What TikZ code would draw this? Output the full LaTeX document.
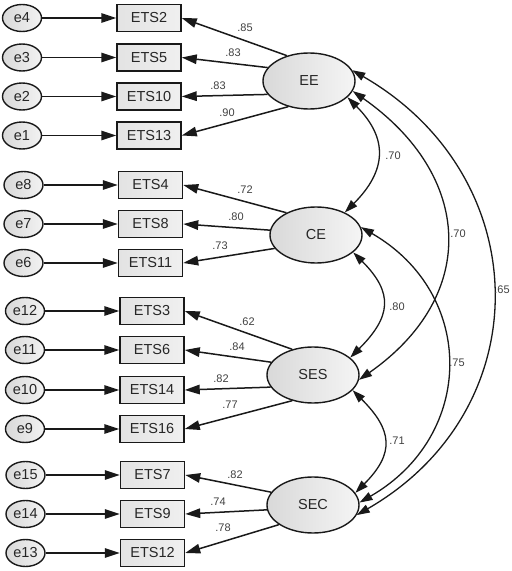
\documentclass[tikz,border=0pt]{standalone}
\usepackage{fontspec}
\setmainfont{Liberation Sans}
\usetikzlibrary{shapes.geometric,arrows.meta}
\begin{document}
\begin{tikzpicture}[x=1pt,y=1pt,
 err/.style={ellipse,draw=black!90,line width=1.4pt,minimum width=39pt,minimum height=27pt,inner sep=0pt,left color=gray!30,right color=gray!10,text=black!85,font=\fontsize{14.5}{16}\selectfont},
 obs/.style={rectangle,draw=black!90,line width=1.5pt,minimum width=64pt,minimum height=27pt,inner sep=0pt,left color=gray!22,right color=gray!12,text=black!85,font=\fontsize{14.5}{16}\selectfont},
 lat/.style={ellipse,draw=black!90,line width=1.4pt,minimum width=92pt,minimum height=56pt,inner sep=0pt,left color=gray!30,right color=gray!8,text=black!85,font=\fontsize{14.5}{16}\selectfont},
 lab/.style={font=\fontsize{11}{12}\selectfont,text=black!75,inner sep=0pt},
 arr/.style={line width=1.5pt,draw=black!90,-{Triangle[length=15pt,width=9.5pt]}},
 cov/.style={line width=1.3pt,draw=black!90,{Triangle[length=13pt,width=8.5pt]}-{Triangle[length=13pt,width=8.5pt]}},
]
\useasboundingbox (0,0) rectangle (512,571);
% group 1
\node[err] (e4) at (22,553) {e4};
\node[err] (e3) at (22,513.5) {e3};
\node[err] (e2) at (22,474.5) {e2};
\node[err] (e1) at (22,435.5) {e1};
\node[obs] (ets2) at (149,553) {ETS2};
\node[obs] (ets5) at (149,513.5) {ETS5};
\node[obs] (ets10) at (149,474.5) {ETS10};
\node[obs] (ets13) at (149,435.5) {ETS13};
% group 2
\node[err] (e8) at (23.5,386) {e8};
\node[err] (e7) at (23.5,347) {e7};
\node[err] (e6) at (23.5,308) {e6};
\node[obs] (ets4) at (150.5,386) {ETS4};
\node[obs] (ets8) at (150.5,347) {ETS8};
\node[obs] (ets11) at (150.5,308) {ETS11};
% group 3
\node[err] (e12) at (25,260) {e12};
\node[err] (e11) at (25,221) {e11};
\node[err] (e10) at (25,181) {e10};
\node[err] (e9) at (25,142) {e9};
\node[obs] (ets3) at (152,260) {ETS3};
\node[obs] (ets6) at (152,221) {ETS6};
\node[obs] (ets14) at (152,181) {ETS14};
\node[obs] (ets16) at (152,142) {ETS16};
% group 4
\node[err] (e15) at (25.5,96) {e15};
\node[err] (e14) at (25.5,57) {e14};
\node[err] (e13) at (25.5,18) {e13};
\node[obs] (ets7) at (152.5,96) {ETS7};
\node[obs] (ets9) at (152.5,57) {ETS9};
\node[obs] (ets12) at (152.5,18) {ETS12};
% latents
\node[lat] (EE) at (309,490) {EE};
\node[lat] (CE) at (316,336) {CE};
\node[lat] (SES) at (313,196) {SES};
\node[lat] (SEC) at (313,66) {SEC};
% error arrows
\foreach \a/\b in {e4/ets2,e3/ets5,e2/ets10,e1/ets13,e8/ets4,e7/ets8,e6/ets11,e12/ets3,e11/ets6,e10/ets14,e9/ets16,e15/ets7,e14/ets9,e13/ets12}
  \draw[arr] (\a.east) -- (\b.west);
% loadings
\draw[arr] (EE.131) -- (ets2.east);
\draw[arr] (EE.162) -- (ets5.east);
\draw[arr] (EE.198) -- (ets10.east);
\draw[arr] (EE.231) -- (ets13.east);
\draw[arr] (CE.143) -- (ets4.east);
\draw[arr] (CE.174) -- (ets8.east);
\draw[arr] (CE.198) -- (ets11.east);
\draw[arr] (SES.129) -- (ets3.east);
\draw[arr] (SES.163) -- (ets6.east);
\draw[arr] (SES.196) -- (ets14.east);
\draw[arr] (SES.231) -- (ets16.east);
\draw[arr] (SEC.163) -- (ets7.east);
\draw[arr] (SEC.186) -- (ets9.east);
\draw[arr] (SEC.210) -- (ets12.east);
% loading labels
\node[lab] (l1) at (245,543) {.85};
\node[lab] (l2) at (233,518) {.83};
\node[lab] (l3) at (218,485) {.83};
\node[lab] (l4) at (227,458) {.90};
\node[lab] (l5) at (245,381) {.72};
\node[lab] (l6) at (236,354) {.80};
\node[lab] (l7) at (220,325) {.73};
\node[lab] (l8) at (247,249) {.62};
\node[lab] (l9) at (237,224) {.84};
\node[lab] (l10) at (221,192) {.82};
\node[lab] (l11) at (230,166) {.77};
\node[lab] (l12) at (235,96) {.82};
\node[lab] (l13) at (218,69) {.74};
\node[lab] (l14) at (223,43) {.78};
% covariances
\draw[cov] (EE.-23) to[out=-45,in=45,looseness=1.3] (CE.38);
\draw[cov] (CE.-25) to[out=-45,in=45,looseness=1.4] (SES.25);
\draw[cov] (SES.-21) to[out=-45,in=45,looseness=1.4] (SEC.16);
\draw[cov] (EE.-13) to[out=-35,in=35,looseness=1.3] (SES.-6);
\draw[cov] (EE.14) to[out=-30,in=30,looseness=1.22] (SEC.-13);
\draw[cov] (CE.10) to[out=-30,in=30,looseness=1.24] (SEC.3);
\node[lab] (c1) at (393,415) {.70};
\node[lab] (c2) at (397,264) {.80};
\node[lab] (c3) at (397,130) {.71};
\node[lab] (c4) at (458,337) {.70};
\node[lab] (c5) at (502,281) {.65};
\node[lab] (c6) at (457,208) {.75};
\end{tikzpicture}
\end{document}
